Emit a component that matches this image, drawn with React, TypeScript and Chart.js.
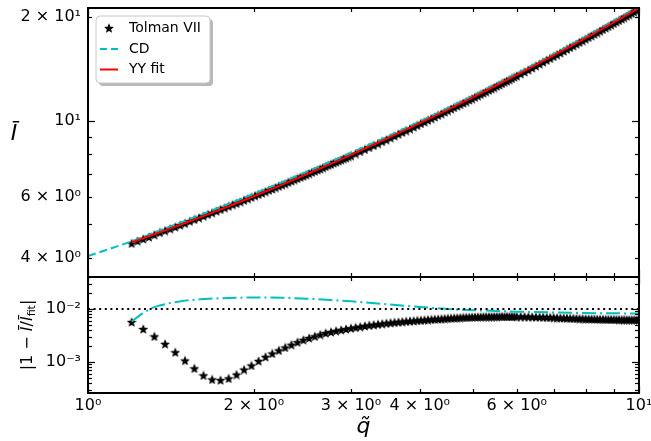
import React, { useEffect, useRef } from 'react';
import { Chart, registerables } from 'chart.js';
Chart.register(...registerables);

// ---------- data ----------
// Tolman VII, top panel (denser sampling as plotted in the upper panel)
const qStarTop = [
  1.2, 1.23, 1.26, 1.29, 1.32, 1.35, 1.38, 1.41, 1.44, 1.47, 1.5, 1.53, 1.56, 1.59, 1.62, 1.65, 1.68, 1.71, 1.74, 1.77,
  1.8, 1.83, 1.86, 1.89, 1.92, 1.95, 1.98, 2.01, 2.04, 2.07, 2.1, 2.13, 2.16, 2.19, 2.22, 2.25, 2.28, 2.31, 2.34, 2.37,
  2.4, 2.43, 2.46, 2.49, 2.52, 2.55, 2.58, 2.61, 2.64, 2.67, 2.7, 2.73, 2.76, 2.79, 2.82, 2.85, 2.88, 2.91, 2.94, 2.97, 3.0,
  3.06, 3.12, 3.18, 3.24, 3.3, 3.36, 3.42, 3.48, 3.54, 3.6, 3.66, 3.72, 3.78, 3.84, 3.9, 3.96, 4.02, 4.08, 4.14, 4.2,
  4.26, 4.32, 4.38, 4.44, 4.5, 4.56, 4.62, 4.68, 4.74, 4.8, 4.86, 4.92, 4.98, 5.04, 5.1, 5.16, 5.22, 5.28, 5.34, 5.4,
  5.46, 5.52, 5.58, 5.64, 5.7, 5.76, 5.82, 5.88, 5.94, 6.0,
  6.1, 6.2, 6.3, 6.4, 6.5, 6.6, 6.7, 6.8, 6.9, 7.0, 7.1, 7.2, 7.3, 7.4, 7.5, 7.6, 7.7, 7.8, 7.9, 8.0,
  8.1, 8.2, 8.3, 8.4, 8.5, 8.6, 8.7, 8.8, 8.9, 9.0, 9.1, 9.2, 9.3, 9.4, 9.5, 9.6, 9.7, 9.8, 9.9, 10.0,
];
const iStarTop = [
  4.41, 4.48, 4.54, 4.6, 4.67, 4.74, 4.8, 4.86, 4.92, 4.98, 5.04, 5.11, 5.17, 5.23, 5.29, 5.35, 5.41, 5.47, 5.53, 5.59,
  5.65, 5.71, 5.76, 5.82, 5.88, 5.94, 6.0, 6.06, 6.11, 6.17, 6.23, 6.29, 6.34, 6.4, 6.46, 6.52, 6.57, 6.63, 6.69, 6.75,
  6.8, 6.86, 6.91, 6.97, 7.03, 7.09, 7.14, 7.2, 7.25, 7.31, 7.37, 7.43, 7.48, 7.54, 7.59, 7.65, 7.7, 7.76, 7.81, 7.87, 7.92,
  8.03, 8.15, 8.26, 8.37, 8.48, 8.59, 8.71, 8.81, 8.93, 9.04, 9.15, 9.26, 9.37, 9.48, 9.59, 9.7, 9.82, 9.93, 10.04, 10.15,
  10.26, 10.38, 10.48, 10.6, 10.71, 10.82, 10.93, 11.04, 11.15, 11.26, 11.37, 11.49, 11.59, 11.71, 11.82, 11.93, 12.04, 12.15, 12.27, 12.38,
  12.49, 12.61, 12.71, 12.83, 12.94, 13.05, 13.16, 13.27, 13.39, 13.5,
  13.69, 13.87, 14.05, 14.24, 14.43, 14.62, 14.81, 14.99, 15.18, 15.37, 15.56, 15.75, 15.94, 16.13, 16.32, 16.51, 16.7, 16.89, 17.08, 17.27,
  17.46, 17.65, 17.84, 18.03, 18.22, 18.41, 18.6, 18.79, 18.99, 19.18, 19.37, 19.56, 19.75, 19.94, 20.14, 20.33, 20.52, 20.72, 20.91, 21.1,
];
// Tolman VII relative deviation, bottom panel
const qStar = [
  1.2, 1.26, 1.32, 1.38, 1.44, 1.5, 1.56, 1.62, 1.68, 1.74, 1.8, 1.86, 1.92, 1.98, 2.04, 2.1, 2.16, 2.22, 2.28, 2.34,
  2.4, 2.46, 2.52, 2.58, 2.64, 2.7, 2.76, 2.82, 2.88, 2.94, 3.0,
  3.06, 3.12, 3.18, 3.24, 3.3, 3.36, 3.42, 3.48, 3.54, 3.6, 3.66, 3.72, 3.78, 3.84, 3.9, 3.96, 4.02, 4.08, 4.14, 4.2,
  4.26, 4.32, 4.38, 4.44, 4.5, 4.56, 4.62, 4.68, 4.74, 4.8, 4.86, 4.92, 4.98, 5.04, 5.1, 5.16, 5.22, 5.28, 5.34, 5.4,
  5.46, 5.52, 5.58, 5.64, 5.7, 5.76, 5.82, 5.88, 5.94, 6.0,
  6.1, 6.2, 6.3, 6.4, 6.5, 6.6, 6.7, 6.8, 6.9, 7.0, 7.1, 7.2, 7.3, 7.4, 7.5, 7.6, 7.7, 7.8, 7.9, 8.0,
  8.1, 8.2, 8.3, 8.4, 8.5, 8.6, 8.7, 8.8, 8.9, 9.0, 9.1, 9.2, 9.3, 9.4, 9.5, 9.6, 9.7, 9.8, 9.9, 10.0,
];
const eStar = [
  0.0057, 0.0042, 0.00305, 0.0022, 0.00153, 0.00107, 0.00076, 0.00056, 0.00047, 0.000455, 0.00049, 0.00058, 0.00072, 0.00086, 0.00105, 0.00125, 0.00145, 0.00166, 0.00188, 0.00212,
  0.00237, 0.00262, 0.00284, 0.00306, 0.0033, 0.00352, 0.0037, 0.00388, 0.00405, 0.0042, 0.00435,
  0.0045, 0.00465, 0.0048, 0.00494, 0.00506, 0.00517, 0.00529, 0.00541, 0.00551, 0.0056, 0.00569, 0.00578, 0.00587, 0.00595, 0.00602, 0.00609, 0.00615, 0.00623, 0.0063, 0.00636,
  0.00643, 0.00649, 0.00655, 0.00661, 0.00667, 0.00673, 0.00679, 0.00684, 0.00689, 0.00694, 0.00698, 0.00701, 0.00705, 0.00708, 0.0071, 0.00712, 0.00715, 0.00717, 0.00718, 0.0072,
  0.00721, 0.00722, 0.00723, 0.00723, 0.00724, 0.00724, 0.00724, 0.00723, 0.00723, 0.00722,
  0.0072, 0.00718, 0.00715, 0.00712, 0.00708, 0.00705, 0.00702, 0.00698, 0.00694, 0.0069, 0.00686, 0.00682, 0.00678, 0.00674, 0.0067, 0.00667, 0.00663, 0.0066, 0.00657, 0.00654,
  0.00651, 0.00649, 0.00647, 0.00645, 0.00643, 0.00641, 0.0064, 0.00639, 0.00637, 0.00636, 0.00635, 0.00633, 0.00632, 0.00631, 0.0063, 0.00629, 0.00628, 0.00628, 0.00627, 0.00626,
];
const qFit = [1.2, 1.3, 1.4, 1.5, 1.6, 1.8, 2.0, 2.25, 2.5, 2.75, 3.0, 3.5, 4.0, 4.5, 5.0, 5.5, 6.0, 7.0, 8.0, 9.0, 10.0];
const iFit = [4.438, 4.644, 4.849, 5.05, 5.251, 5.648, 6.039, 6.526, 7.007, 7.482, 7.958, 8.902, 9.842, 10.78, 11.72, 12.66, 13.59, 15.48, 17.38, 19.3, 21.23];
const qCd = [1.0, 1.1, 1.2, 1.3, 1.4, 1.5, 1.6, 1.8, 2.0, 2.25, 2.5, 2.75, 3.0, 3.5, 4.0, 4.5, 5.0, 5.5, 6.0, 7.0, 8.0, 9.0, 10.0];
const iCd = [4.05, 4.26, 4.464, 4.692, 4.911, 5.123, 5.331, 5.74, 6.139, 6.632, 7.117, 7.593, 8.069, 9.011, 9.949, 10.89, 11.83, 12.78, 13.71, 15.61, 17.53, 19.46, 21.4];
const qCdErr = [1.2, 1.25, 1.3, 1.35, 1.4, 1.5, 1.6, 1.7, 1.8, 1.9, 2.0, 2.1, 2.25, 2.5, 2.75, 3.0, 3.5, 4.0, 4.5, 5.0, 5.5, 6.0, 7.0, 8.0, 9.0, 10.0];
const eCd = [0.0058, 0.008, 0.0103, 0.0117, 0.0128, 0.0144, 0.0153, 0.0158, 0.0162, 0.0164, 0.0165, 0.0165, 0.0163, 0.0157, 0.0148, 0.014, 0.0123, 0.0109, 0.01, 0.0095, 0.0092, 0.0089, 0.0086, 0.0084, 0.0083, 0.0082];
const refLevel = 0.01;

const xTickValues = [1, 2, 3, 4, 5, 6, 7, 8, 9, 10];
const xTickLabels = ['10⁰', '2 × 10⁰', '3 × 10⁰', '4 × 10⁰', '', '6 × 10⁰', '', '', '', '10¹'];
const xMajor = [1, 10];
const topYTickValues = [4, 5, 6, 7, 8, 9, 10, 20];
const topYTickLabels = ['4 × 10⁰', '', '6 × 10⁰', '', '', '', '10¹', '2 × 10¹'];
const topYMajor = [10];
const botYTickValues = [0.0003, 0.0004, 0.0005, 0.0006, 0.0007, 0.0008, 0.0009, 0.001, 0.002, 0.003, 0.004, 0.005, 0.006, 0.007, 0.008, 0.009, 0.01, 0.02, 0.03, 0.04];
const botYTickLabels = ['', '', '', '', '', '', '', '10⁻³', '', '', '', '', '', '', '', '', '10⁻²', '', '', ''];
const botYMajor = [0.001, 0.01];

const legendLabels = ['Tolman VII', 'CD', 'YY fit'];

// ---------- styling ----------
const FONT = "'DejaVu Sans', sans-serif";
const CYAN = '#00bfbf';
const RED = '#ff0000';

const pts = (xs: number[], ys: number[]) => xs.map((x, i) => ({ x, y: ys[i] }));
const labelFor = (vals: number[], labels: string[], v: number) => {
  for (let i = 0; i < vals.length; i++) if (Math.abs(vals[i] - v) <= 1e-9 + Math.abs(v) * 1e-6) return labels[i];
  return '';
};

function makeStar(px: number, R: number): HTMLCanvasElement {
  const c = document.createElement('canvas');
  c.width = px;
  c.height = px;
  const g = c.getContext('2d')!;
  const cx = px / 2, cy = px / 2 + 0.5, r = R * 0.45;
  g.beginPath();
  for (let k = 0; k < 10; k++) {
    const rad = k % 2 === 0 ? R : r;
    const a = -Math.PI / 2 + (k * Math.PI) / 5;
    const x = cx + rad * Math.cos(a), y = cy + rad * Math.sin(a);
    if (k) g.lineTo(x, y); else g.moveTo(x, y);
  }
  g.closePath();
  g.fillStyle = '#000';
  g.fill();
  g.strokeStyle = '#000';
  g.lineJoin = 'miter';
  g.lineWidth = 1.1;
  g.stroke();
  return c;
}

function frameTicks(yVals: number[], yMajor: number[]) {
  return {
    id: 'frameTicks',
    afterDatasetsDraw(chart: any) {
      const { ctx, chartArea: a, scales } = chart;
      ctx.save();
      ctx.strokeStyle = '#000';
      ctx.lineWidth = 1.2;
      const seg = (x1: number, y1: number, x2: number, y2: number) => {
        ctx.beginPath();
        ctx.moveTo(x1, y1);
        ctx.lineTo(x2, y2);
        ctx.stroke();
      };
      xTickValues.forEach((v) => {
        const x = Math.round(scales.x.getPixelForValue(v)) + 0.5;
        const L = xMajor.includes(v) ? 7 : 4;
        seg(x, a.bottom, x, a.bottom - L);
        seg(x, a.top, x, a.top + L);
      });
      yVals.forEach((v) => {
        const y = Math.round(scales.y.getPixelForValue(v)) + 0.5;
        if (y < a.top - 0.5 || y > a.bottom + 0.5) return;
        const L = yMajor.includes(v) ? 7 : 4;
        seg(a.left, y, a.left + L, y);
        seg(a.right, y, a.right - L, y);
      });
      ctx.lineWidth = 2;
      ctx.strokeRect(a.left, a.top, a.right - a.left, a.bottom - a.top);
      ctx.restore();
    },
  };
}

function roundRect(ctx: CanvasRenderingContext2D, x: number, y: number, w: number, h: number, r: number) {
  ctx.beginPath();
  ctx.moveTo(x + r, y);
  ctx.lineTo(x + w - r, y);
  ctx.arcTo(x + w, y, x + w, y + r, r);
  ctx.lineTo(x + w, y + h - r);
  ctx.arcTo(x + w, y + h, x + w - r, y + h, r);
  ctx.lineTo(x + r, y + h);
  ctx.arcTo(x, y + h, x, y + h - r, r);
  ctx.lineTo(x, y + r);
  ctx.arcTo(x, y, x + r, y, r);
  ctx.closePath();
}

function legendPlugin(star: HTMLCanvasElement) {
  return {
    id: 'legendBox',
    afterDraw(chart: any) {
      const ctx = chart.ctx as CanvasRenderingContext2D;
      const a = chart.chartArea;
      const x0 = a.left + 8, y0 = a.top + 8, w = 114, h = 67;
      ctx.save();
      ctx.fillStyle = 'rgba(0,0,0,0.28)';
      roundRect(ctx, x0 + 3, y0 + 3, w, h, 4);
      ctx.fill();
      ctx.fillStyle = '#fff';
      roundRect(ctx, x0, y0, w, h, 4);
      ctx.fill();
      ctx.strokeStyle = '#c8c8c8';
      ctx.lineWidth = 1;
      ctx.stroke();
      const rows = [y0 + 12, y0 + 33, y0 + 53.5];
      ctx.drawImage(star, x0 + 13 - star.width / 2, rows[0] - star.height / 2);
      ctx.lineWidth = 2;
      ctx.strokeStyle = CYAN;
      ctx.setLineDash([7, 4]);
      ctx.beginPath();
      ctx.moveTo(x0 + 4, rows[1]);
      ctx.lineTo(x0 + 22, rows[1]);
      ctx.stroke();
      ctx.setLineDash([]);
      ctx.strokeStyle = RED;
      ctx.beginPath();
      ctx.moveTo(x0 + 4, rows[2]);
      ctx.lineTo(x0 + 22, rows[2]);
      ctx.stroke();
      ctx.fillStyle = '#000';
      ctx.font = `14px ${FONT}`;
      ctx.textBaseline = 'middle';
      ctx.textAlign = 'left';
      legendLabels.forEach((t, i) => ctx.fillText(t, x0 + 33, rows[i]));
      ctx.restore();
    },
  };
}

const topTitle = {
  id: 'topTitle',
  afterDraw(chart: any) {
    const ctx = chart.ctx as CanvasRenderingContext2D;
    ctx.save();
    ctx.fillStyle = '#000';
    ctx.font = `italic 22px ${FONT}`;
    ctx.textAlign = 'center';
    ctx.textBaseline = 'alphabetic';
    ctx.fillText('Ī', 14, 140);
    ctx.restore();
  },
};

const botTitles = {
  id: 'botTitles',
  afterDraw(chart: any) {
    const ctx = chart.ctx as CanvasRenderingContext2D;
    const a = chart.chartArea;
    ctx.save();
    ctx.fillStyle = '#000';
    ctx.font = `italic 22px ${FONT}`;
    ctx.textAlign = 'center';
    ctx.textBaseline = 'alphabetic';
    ctx.fillText('q\u0303', (a.left + a.right) / 2, 433);
    const parts = [
      { t: '|1 − ', f: `16px ${FONT}`, dy: 0 },
      { t: 'Ī', f: `italic 16px ${FONT}`, dy: 0 },
      { t: '/', f: `16px ${FONT}`, dy: 0 },
      { t: 'Ī', f: `italic 16px ${FONT}`, dy: 0 },
      { t: 'fit', f: `11px ${FONT}`, dy: 3 },
      { t: '|', f: `16px ${FONT}`, dy: 0 },
    ];
    let total = 0;
    const widths = parts.map((p) => {
      ctx.font = p.f;
      const w = ctx.measureText(p.t).width;
      total += w;
      return w;
    });
    ctx.translate(27, (a.top + a.bottom) / 2);
    ctx.rotate(-Math.PI / 2);
    ctx.textAlign = 'left';
    let x = -total / 2;
    parts.forEach((p, i) => {
      ctx.font = p.f;
      ctx.fillText(p.t, x, 5 + p.dy);
      x += widths[i];
    });
    ctx.restore();
  },
};

const tickFont = { family: FONT, size: 16 };

export default function App() {
  const topRef = useRef<HTMLCanvasElement>(null);
  const botRef = useRef<HTMLCanvasElement>(null);

  useEffect(() => {
    document.body.style.margin = '0';
    document.body.style.overflow = 'hidden';
    const star = makeStar(10, 3.7);

    const top = new Chart(topRef.current as HTMLCanvasElement, {
      type: 'scatter',
      data: {
        datasets: [
          { label: legendLabels[0], data: pts(qStarTop, iStarTop), pointStyle: star as any, pointRadius: 5, order: 2, clip: 0 } as any,
          { label: legendLabels[1], data: pts(qCd, iCd), showLine: true, borderColor: CYAN, borderWidth: 2, borderDash: [8, 4], pointRadius: 0, order: 1, clip: 0 },
          { label: legendLabels[2], data: pts(qFit, iFit), showLine: true, borderColor: RED, borderWidth: 2, pointRadius: 0, order: 0, clip: 0 },
        ],
      },
      options: {
        animation: false,
        responsive: false,
        devicePixelRatio: 1,
        events: [],
        layout: { padding: { left: 0, right: 12, top: 8, bottom: 164 } },
        plugins: { legend: { display: false }, tooltip: { enabled: false } },
        scales: {
          x: { type: 'logarithmic', min: 1, max: 10, bounds: 'data', display: false },
          y: {
            type: 'logarithmic',
            min: 3.52,
            max: 21.25,
            bounds: 'data',
            grid: { display: false, drawTicks: false },
            border: { display: false },
            afterBuildTicks: (s: any) => { s.ticks = topYTickValues.map((v) => ({ value: v })); },
            afterFit: (s: any) => { s.width = 88; s.paddingTop = 0; s.paddingBottom = 0; },
            ticks: {
              autoSkip: false,
              padding: 7,
              color: '#000',
              font: tickFont,
              callback: (v: any) => labelFor(topYTickValues, topYTickLabels, Number(v)),
            },
          } as any,
        },
      },
      plugins: [frameTicks(topYTickValues, topYMajor), legendPlugin(star), topTitle],
    });

    const bot = new Chart(botRef.current as HTMLCanvasElement, {
      type: 'scatter',
      data: {
        datasets: [
          { label: 'Tolman VII', data: pts(qStar, eStar), pointStyle: star as any, pointRadius: 5, order: 2, clip: 0 } as any,
          { label: 'CD', data: pts(qCdErr, eCd), showLine: true, borderColor: CYAN, borderWidth: 2, borderDash: [14, 4, 2, 4], pointRadius: 0, order: 1, clip: 0 },
          { label: '1%', data: pts([1, 10], [refLevel, refLevel]), showLine: true, borderColor: '#000', borderWidth: 2, borderDash: [2, 3.6], pointRadius: 0, order: 0, clip: 0 },
        ],
      },
      options: {
        animation: false,
        responsive: false,
        devicePixelRatio: 1,
        events: [],
        layout: { padding: { left: 0, right: 12, top: 277, bottom: 0 } },
        plugins: { legend: { display: false }, tooltip: { enabled: false } },
        scales: {
          x: {
            type: 'logarithmic',
            min: 1,
            max: 10,
            bounds: 'data',
            grid: { display: false, drawTicks: false },
            border: { display: false },
            afterBuildTicks: (s: any) => { s.ticks = xTickValues.map((v) => ({ value: v })); },
            afterFit: (s: any) => { s.height = 48; s.paddingLeft = 0; s.paddingRight = 0; },
            ticks: {
              autoSkip: false,
              maxRotation: 0,
              minRotation: 0,
              padding: 3,
              color: '#000',
              font: tickFont,
              callback: (v: any) => labelFor(xTickValues, xTickLabels, Number(v)),
            },
          } as any,
          y: {
            type: 'logarithmic',
            min: 0.00026,
            max: 0.0402,
            bounds: 'data',
            grid: { display: false, drawTicks: false },
            border: { display: false },
            afterBuildTicks: (s: any) => { s.ticks = botYTickValues.map((v) => ({ value: v })); },
            afterFit: (s: any) => { s.width = 88; s.paddingTop = 0; s.paddingBottom = 0; },
            ticks: {
              autoSkip: false,
              padding: 7,
              color: '#000',
              font: tickFont,
              callback: (v: any) => labelFor(botYTickValues, botYTickLabels, Number(v)),
            },
          } as any,
        },
      },
      plugins: [frameTicks(botYTickValues, botYMajor), botTitles],
    });

    return () => {
      top.destroy();
      bot.destroy();
    };
  }, []);

  return (
    <div style={{ position: 'relative', width: 651, height: 441, background: '#fff', overflow: 'hidden' }}>
      <canvas ref={topRef} width={651} height={441} style={{ position: 'absolute', left: 0, top: 0 }} />
      <canvas ref={botRef} width={651} height={441} style={{ position: 'absolute', left: 0, top: 0 }} />
    </div>
  );
}
